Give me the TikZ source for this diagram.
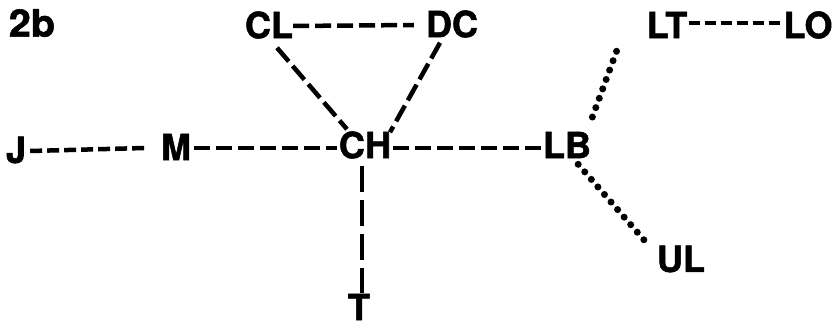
\documentclass[tikz,border=0pt]{standalone}
\usepackage{fontspec}
\newfontfamily\lblfont[FakeBold=1.5]{TeX Gyre Heros Bold}
\begin{document}
\begin{tikzpicture}[x=1pt,y=-1pt,
  lbl/.style={inner sep=0pt,font=\lblfont\fontsize{36}{36}\selectfont},
  dashline/.style={line width=4.5pt,dash pattern=on 16pt off 6pt},
  dotline/.style={line width=7pt,line cap=round,dash pattern=on 0pt off 10pt}]
\useasboundingbox[fill=white] (0,0) rectangle (839,329);
% labels
\node[lbl,xscale=1.1,yscale=1.05] (fig) at (32,23) {2b};
\node[lbl] (CL) at (269,25) {CL};
\node[lbl] (DC) at (452,24) {DC};
\node[lbl] (LT) at (667,25) {LT};
\node[lbl] (LO) at (808,25) {LO};
\node[lbl] (J) at (16,150) {J};
\node[lbl] (M) at (176,147) {M};
\node[lbl] (CH) at (365,145) {CH};
\node[lbl] (LB) at (567,145) {LB};
\node[lbl] (T) at (359,307) {T};
\node[lbl] (UL) at (681,259) {UL};
% connectors
\draw[dashline] ([yshift=-1pt]CL.east) -- ([xshift=-12pt,yshift=-1pt]DC.west);
\draw[dashline,dash pattern=on 11pt off 5pt,line width=4pt] ([xshift=2pt,yshift=2pt]LT.east) -- ([xshift=-2pt,yshift=2pt]LO.west);
\draw[dashline,dash pattern=on 12pt off 5pt] ([xshift=4pt,yshift=-1pt]J.east) -- ([xshift=-16pt,yshift=-1pt]M.west);
\draw[dashline] ([xshift=3pt,yshift=-1pt]M.east) -- ([xshift=-2pt,yshift=-3pt]CH.west);
\draw[dashline] ([xshift=2pt,yshift=-3pt]CH.east) -- ([xshift=-1pt,yshift=-3pt]LB.west);
\draw[dashline,dash pattern=on 18pt off 6pt] ([xshift=8pt,yshift=-9pt]CL.south) -- ([xshift=-18pt,yshift=2pt]CH.north);
\draw[dashline,dash pattern=on 18pt off 6pt] ([xshift=-12pt,yshift=-5pt]DC.south) -- ([xshift=25pt,yshift=-1pt]CH.north);
\draw[dashline,dash pattern=on 26pt off 8pt] ([xshift=-3pt,yshift=-7pt]CH.south) -- ([xshift=3pt,yshift=1pt]T.north);
\draw[dotline] ([xshift=-30pt,yshift=-13pt]LT.south west) -- ([xshift=-2pt,yshift=6pt]LB.north east);
\draw[dotline] ([xshift=-13pt,yshift=-6pt]LB.south east) -- ([xshift=-8pt,yshift=0pt]UL.north west);
\end{tikzpicture}
\end{document}
